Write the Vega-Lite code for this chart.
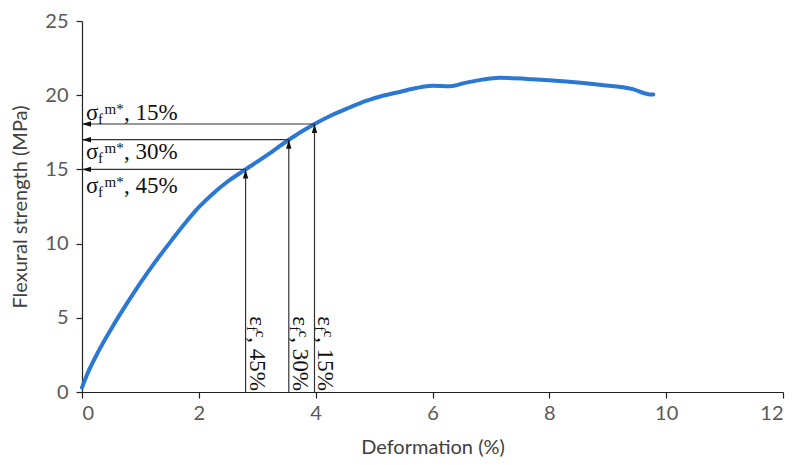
{
  "$schema": "https://vega.github.io/schema/vega-lite/v6.json",
  "width": 701,
  "height": 371,
  "autosize": {"type": "none"},
  "padding": {"left": 82, "top": 21, "right": 9, "bottom": 73},
  "background": "white",
  "config": {
    "view": {"stroke": null},
    "axis": {
      "grid": false,
      "labelFont": "Lato",
      "labelFontSize": 20,
      "labelColor": "#595959",
      "titleFont": "Lato",
      "titleFontSize": 20,
      "titleFontWeight": "normal",
      "titleColor": "#404040",
      "domainColor": "#222222",
      "tickColor": "#222222",
      "tickSize": 6,
      "domainWidth": 1.2,
      "tickWidth": 1.2
    }
  },
  "datasets": {
    "curve": [
      {"deformation": 0, "strength": 0.3},
      {"deformation": 0.1, "strength": 1.3},
      {"deformation": 0.25, "strength": 2.5},
      {"deformation": 0.5, "strength": 4.25},
      {"deformation": 0.75, "strength": 5.85},
      {"deformation": 1.0, "strength": 7.35},
      {"deformation": 1.25, "strength": 8.75},
      {"deformation": 1.5, "strength": 10.05},
      {"deformation": 1.75, "strength": 11.3},
      {"deformation": 2.0, "strength": 12.45},
      {"deformation": 2.25, "strength": 13.4},
      {"deformation": 2.5, "strength": 14.2},
      {"deformation": 2.8, "strength": 15.0},
      {"deformation": 3.2, "strength": 16.05},
      {"deformation": 3.54, "strength": 17.0},
      {"deformation": 3.98, "strength": 18.06},
      {"deformation": 4.3, "strength": 18.7},
      {"deformation": 4.58, "strength": 19.17},
      {"deformation": 4.85, "strength": 19.6},
      {"deformation": 5.15, "strength": 19.96},
      {"deformation": 5.44, "strength": 20.22},
      {"deformation": 5.72, "strength": 20.48},
      {"deformation": 6.0, "strength": 20.63},
      {"deformation": 6.29, "strength": 20.6},
      {"deformation": 6.58, "strength": 20.85},
      {"deformation": 6.85, "strength": 21.05},
      {"deformation": 7.15, "strength": 21.17},
      {"deformation": 7.71, "strength": 21.08},
      {"deformation": 8.29, "strength": 20.92},
      {"deformation": 8.86, "strength": 20.7},
      {"deformation": 9.43, "strength": 20.41},
      {"deformation": 9.69, "strength": 20.07},
      {"deformation": 9.78, "strength": 20.05}
    ],
    "arrows": [
      {"level": "15%", "deformation": 3.98, "strength": 18.06, "origin": 0},
      {"level": "30%", "deformation": 3.54, "strength": 17.0, "origin": 0},
      {"level": "45%", "deformation": 2.8, "strength": 15.0, "origin": 0}
    ],
    "sigmaLabels": [
      {"suffix": ", 15%", "deformation": 0, "strength": 18.31},
      {"suffix": ", 30%", "deformation": 0, "strength": 15.68},
      {"suffix": ", 45%", "deformation": 0, "strength": 13.44}
    ],
    "epsLabels": [
      {"suffix": ", 45%", "deformation": 2.8, "strength": 5.1},
      {"suffix": ", 30%", "deformation": 3.54, "strength": 5.1},
      {"suffix": ", 15%", "deformation": 3.98, "strength": 5.1}
    ]
  },
  "layer": [
    {
      "data": {"name": "curve"},
      "mark": {"type": "line", "color": "#2A78D4", "strokeWidth": 4, "strokeCap": "round", "strokeJoin": "round", "interpolate": "monotone"},
      "encoding": {
        "x": {
          "field": "deformation", "type": "quantitative",
          "scale": {"domain": [0, 12], "nice": false},
          "axis": {"values": [0, 2, 4, 6, 8, 10, 12], "format": "d", "title": "Deformation (%)", "labelPadding": 5, "titlePadding": 14}
        },
        "y": {
          "field": "strength", "type": "quantitative",
          "scale": {"domain": [0, 25], "nice": false},
          "axis": {"values": [0, 5, 10, 15, 20, 25], "format": "d", "title": "Flexural strength (MPa)", "labelPadding": 8, "titlePadding": 14}
        }
      }
    },
    {
      "data": {"name": "arrows"},
      "mark": {"type": "rule", "color": "#333333", "strokeWidth": 1.2},
      "encoding": {
        "x": {"field": "origin", "type": "quantitative"},
        "x2": {"field": "deformation"},
        "y": {"field": "strength", "type": "quantitative"}
      }
    },
    {
      "data": {"name": "arrows"},
      "mark": {"type": "rule", "color": "#333333", "strokeWidth": 1.2},
      "encoding": {
        "x": {"field": "deformation", "type": "quantitative"},
        "y": {"field": "origin", "type": "quantitative"},
        "y2": {"field": "strength"}
      }
    },
    {
      "data": {"name": "arrows"},
      "mark": {"type": "point", "shape": "M0,0L2,-0.6L2,0.6Z", "size": 81, "filled": true, "color": "#111111", "opacity": 1},
      "encoding": {
        "x": {"field": "origin", "type": "quantitative"},
        "y": {"field": "strength", "type": "quantitative"}
      }
    },
    {
      "data": {"name": "arrows"},
      "mark": {"type": "point", "shape": "M0,0L-0.6,2L0.6,2Z", "size": 81, "filled": true, "color": "#111111", "opacity": 1},
      "encoding": {
        "x": {"field": "deformation", "type": "quantitative"},
        "y": {"field": "strength", "type": "quantitative"}
      }
    },
    {
      "data": {"name": "sigmaLabels"},
      "mark": {"type": "text", "text": "σ", "font": "Liberation Serif", "fontSize": 23, "align": "left", "baseline": "alphabetic", "dx": 4, "color": "#111111"},
      "encoding": {
        "x": {"field": "deformation", "type": "quantitative"},
        "y": {"field": "strength", "type": "quantitative"}
      }
    },
    {
      "data": {"name": "sigmaLabels"},
      "mark": {"type": "text", "text": "f", "font": "Liberation Serif", "fontSize": 15, "align": "left", "baseline": "alphabetic", "dx": 16, "dy": 4, "color": "#111111"},
      "encoding": {
        "x": {"field": "deformation", "type": "quantitative"},
        "y": {"field": "strength", "type": "quantitative"}
      }
    },
    {
      "data": {"name": "sigmaLabels"},
      "mark": {"type": "text", "text": "m*", "font": "Liberation Serif", "fontSize": 15, "align": "left", "baseline": "alphabetic", "dx": 22.5, "dy": -6, "color": "#111111"},
      "encoding": {
        "x": {"field": "deformation", "type": "quantitative"},
        "y": {"field": "strength", "type": "quantitative"}
      }
    },
    {
      "data": {"name": "sigmaLabels"},
      "mark": {"type": "text", "font": "Liberation Serif", "fontSize": 23, "align": "left", "baseline": "alphabetic", "dx": 42, "color": "#111111"},
      "encoding": {
        "x": {"field": "deformation", "type": "quantitative"},
        "y": {"field": "strength", "type": "quantitative"},
        "text": {"field": "suffix", "type": "nominal"}
      }
    },
    {
      "data": {"name": "epsLabels"},
      "mark": {"type": "text", "text": "ε", "font": "Liberation Serif", "fontSize": 23, "angle": 90, "align": "left", "baseline": "alphabetic", "dx": 0, "dy": -4, "color": "#111111"},
      "encoding": {
        "x": {"field": "deformation", "type": "quantitative"},
        "y": {"field": "strength", "type": "quantitative"}
      }
    },
    {
      "data": {"name": "epsLabels"},
      "mark": {"type": "text", "text": "f", "font": "Liberation Serif", "fontSize": 15, "angle": 90, "align": "left", "baseline": "alphabetic", "dx": 10, "dy": -1, "color": "#111111"},
      "encoding": {
        "x": {"field": "deformation", "type": "quantitative"},
        "y": {"field": "strength", "type": "quantitative"}
      }
    },
    {
      "data": {"name": "epsLabels"},
      "mark": {"type": "text", "text": "c", "font": "Liberation Serif", "fontSize": 15, "angle": 90, "align": "left", "baseline": "alphabetic", "dx": 14.5, "dy": -10, "color": "#111111"},
      "encoding": {
        "x": {"field": "deformation", "type": "quantitative"},
        "y": {"field": "strength", "type": "quantitative"}
      }
    },
    {
      "data": {"name": "epsLabels"},
      "mark": {"type": "text", "font": "Liberation Serif", "fontSize": 23, "angle": 90, "align": "left", "baseline": "alphabetic", "dx": 21, "dy": -4, "color": "#111111"},
      "encoding": {
        "x": {"field": "deformation", "type": "quantitative"},
        "y": {"field": "strength", "type": "quantitative"},
        "text": {"field": "suffix", "type": "nominal"}
      }
    }
  ]
}
